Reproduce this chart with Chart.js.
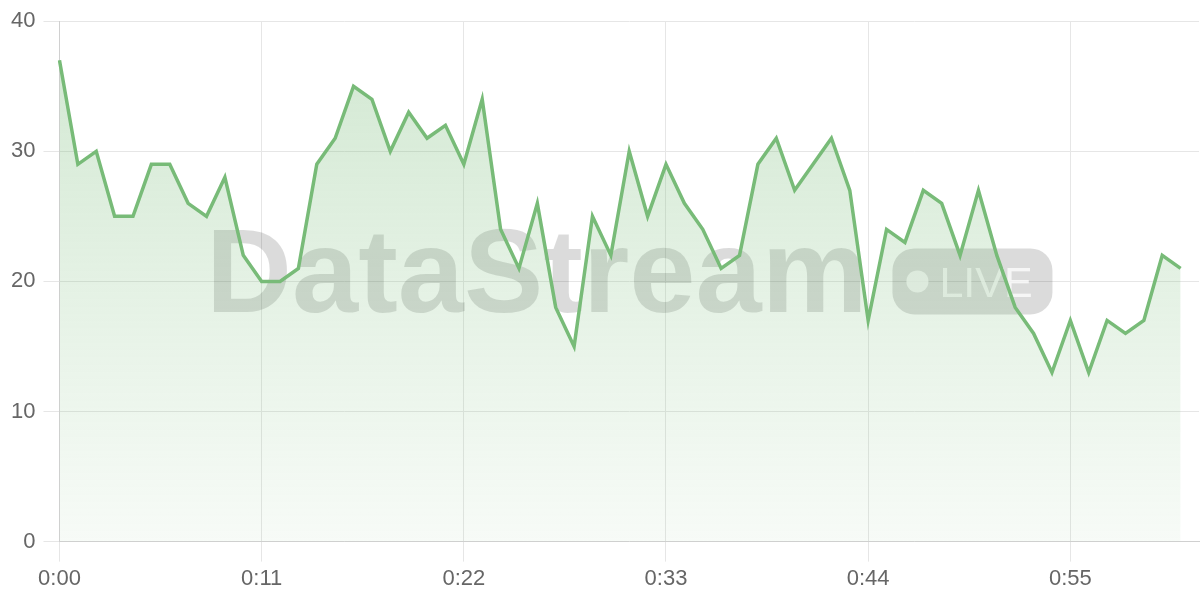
<!DOCTYPE html>
<html>
<head>
<meta charset="utf-8">
<script src="https://cdn.jsdelivr.net/npm/chart.js"></script>
<style>
  html, body { margin: 0; padding: 0; background: #fff; }
  #wrap { width: 1200px; height: 600px; }
</style>
</head>
<body>
<div id="wrap"><canvas id="liveChart"></canvas></div>
<script>
// Data
const timeLabels = [
    '0:00', '0:01', '0:02', '0:03', '0:04', '0:05', '0:06', '0:07', '0:08', '0:09',
    '0:10', '0:11', '0:12', '0:13', '0:14', '0:15', '0:16', '0:17', '0:18', '0:19',
    '0:20', '0:21', '0:22', '0:23', '0:24', '0:25', '0:26', '0:27', '0:28', '0:29',
    '0:30', '0:31', '0:32', '0:33', '0:34', '0:35', '0:36', '0:37', '0:38', '0:39',
    '0:40', '0:41', '0:42', '0:43', '0:44', '0:45', '0:46', '0:47', '0:48', '0:49',
    '0:50', '0:51', '0:52', '0:53', '0:54', '0:55', '0:56', '0:57', '0:58', '0:59',
    '1:00', '1:01', '1:02'
];
const streamValues = [
    37, 29, 30, 25, 25, 29, 29, 26, 25, 28,
    22, 20, 20, 21, 29, 31, 35, 34, 30, 33,
    31, 32, 29, 34, 24, 21, 26, 18, 15, 25,
    22, 30, 25, 29, 26, 24, 21, 22, 29, 31,
    27, 29, 31, 27, 17, 24, 23, 27, 26, 22,
    27, 22, 18, 16, 13, 17, 13, 17, 16, 17,
    22, 21
];
const shownTicks = ['0:00', '0:11', '0:22', '0:33', '0:44', '0:55'];

const lineColor = '#78bb78';
const tickFont = { size: 22, family: '"Helvetica Neue", "Liberation Sans", Arial, sans-serif' };

// Watermark behind the line
const watermark = {
    id: 'watermark',
    beforeDatasetsDraw(chart) {
        const { ctx, chartArea } = chart;
        const cx = (chartArea.left + chartArea.right) / 2;
        const cy = (chartArea.top + chartArea.bottom) / 2;
        ctx.save();
        ctx.font = 'bold 119px "Liberation Sans", Arial, sans-serif';
        ctx.textBaseline = 'alphabetic';
        const word = 'DataStream';
        const wordW = ctx.measureText(word).width;
        const badgeW = 160, badgeH = 66, gap = 25;
        const total = wordW + gap + badgeW;
        const x0 = cx - total / 2;
        const base = cy + 31;
        ctx.fillStyle = 'rgba(0, 0, 0, 0.14)';
        ctx.fillText(word, x0, base);

        const bx = x0 + wordW + gap;
        const by = cy - 33;
        ctx.beginPath();
        ctx.roundRect(bx, by, badgeW, badgeH, 22);
        ctx.fill();

        ctx.fillStyle = 'rgba(255, 255, 255, 0.75)';
        ctx.beginPath();
        ctx.arc(bx + 25, by + 33, 11, 0, Math.PI * 2);
        ctx.fill();
        ctx.font = '43px "Liberation Sans", Arial, sans-serif';
        ctx.fillText('LIVE', bx + 47, by + 49);
        ctx.restore();
    }
};

const ctx = document.getElementById('liveChart').getContext('2d');

new Chart(ctx, {
    type: 'line',
    data: {
        labels: timeLabels,
        datasets: [{
            data: streamValues,
            borderColor: lineColor,
            borderWidth: 3.5,
            pointRadius: 0,
            tension: 0,
            fill: 'origin',
            backgroundColor: (c) => {
                const area = c.chart.chartArea;
                if (!area) return 'rgba(120, 187, 120, 0.2)';
                const g = c.chart.ctx.createLinearGradient(0, area.top, 0, area.bottom);
                g.addColorStop(0, 'rgba(120, 187, 120, 0.34)');
                g.addColorStop(1, 'rgba(120, 187, 120, 0.06)');
                return g;
            }
        }]
    },
    options: {
        responsive: true,
        maintainAspectRatio: false,
        animation: false,
        layout: { padding: { top: 9, right: 1, bottom: 4, left: 3 } },
        plugins: {
            legend: { display: false },
            tooltip: { enabled: false }
        },
        scales: {
            x: {
                grid: { color: '#e6e6e6', tickLength: 20 },
                border: { color: '#d0d0d0' },
                ticks: {
                    autoSkip: false,
                    maxRotation: 0,
                    padding: 4,
                    color: '#666',
                    font: tickFont,
                    callback: function (val) {
                        const lbl = this.getLabelForValue(val);
                        return shownTicks.includes(lbl) ? lbl : null;
                    }
                }
            },
            y: {
                min: 0,
                max: 40,
                grid: { color: '#e6e6e6', tickLength: 16 },
                border: { color: '#d0d0d0' },
                ticks: {
                    stepSize: 10,
                    padding: 8,
                    color: '#666',
                    font: tickFont
                }
            }
        }
    },
    plugins: [watermark]
});
</script>
</body>
</html>
